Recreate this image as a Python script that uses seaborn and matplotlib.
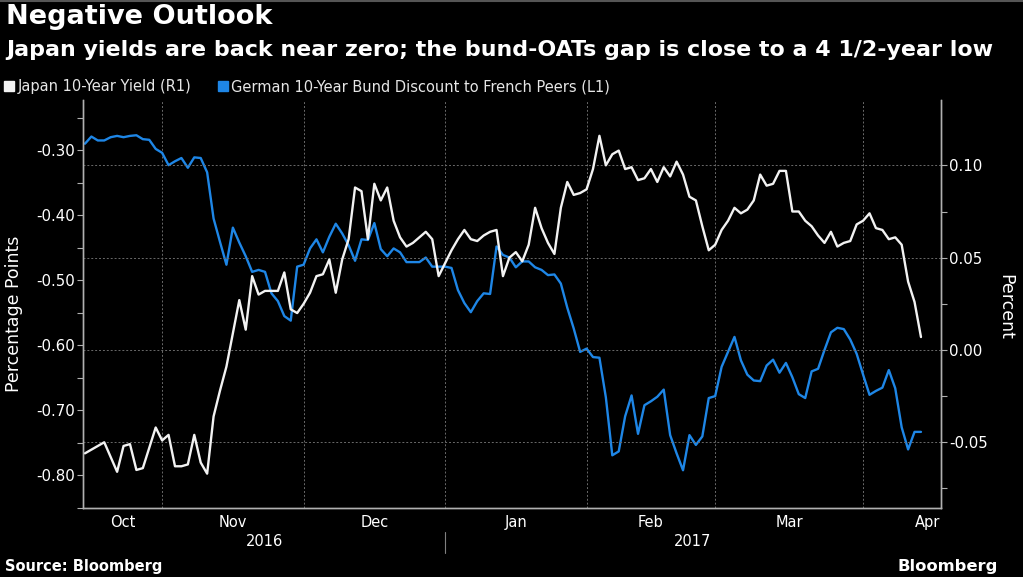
import numpy as np
import pandas as pd
import matplotlib
matplotlib.use("Agg")
import matplotlib.pyplot as plt
import matplotlib.transforms as mtransforms
from matplotlib.lines import Line2D
import seaborn as sns

# ---------------- data (business days starting 2016-10-14) ----------------
start_date = "2016-10-14"
japan_10y = [
    -0.056, -0.054, -0.052, -0.050, -0.058, -0.066, -0.052, -0.051, -0.065, -0.064,
    -0.053, -0.042, -0.049, -0.046, -0.063, -0.063, -0.062, -0.046, -0.061, -0.067,
    -0.036, -0.022, -0.009, 0.009, 0.027, 0.011, 0.040, 0.030, 0.032, 0.032,
    0.032, 0.042, 0.022, 0.020, 0.025, 0.031, 0.040, 0.041, 0.049, 0.031,
    0.049, 0.060, 0.088, 0.086, 0.060, 0.090, 0.081, 0.088, 0.070, 0.061,
    0.056, 0.058, 0.061, 0.064, 0.060, 0.040, 0.047, 0.054, 0.060, 0.065,
    0.060, 0.059, 0.062, 0.064, 0.065, 0.040, 0.050, 0.053, 0.048, 0.057,
    0.077, 0.066, 0.058, 0.052, 0.077, 0.091, 0.084, 0.085, 0.087, 0.098,
    0.116, 0.100, 0.106, 0.108, 0.098, 0.099, 0.092, 0.093, 0.098, 0.091,
    0.099, 0.094, 0.102, 0.095, 0.083, 0.081, 0.067, 0.054, 0.057, 0.065,
    0.070, 0.077, 0.074, 0.076, 0.081, 0.095, 0.089, 0.090, 0.097, 0.097,
    0.075, 0.075, 0.070, 0.067, 0.062, 0.058, 0.064, 0.056, 0.058, 0.059,
    0.068, 0.070, 0.074, 0.066, 0.065, 0.060, 0.061, 0.057, 0.037, 0.026,
    0.007,
]
bund_oat_gap = [
    -0.290, -0.279, -0.285, -0.285, -0.280, -0.278, -0.280, -0.278, -0.277, -0.283,
    -0.284, -0.298, -0.304, -0.323, -0.317, -0.312, -0.327, -0.311, -0.312, -0.334,
    -0.405, -0.441, -0.476, -0.419, -0.442, -0.463, -0.487, -0.484, -0.487, -0.520,
    -0.532, -0.555, -0.562, -0.479, -0.476, -0.451, -0.437, -0.457, -0.433, -0.413,
    -0.428, -0.446, -0.470, -0.437, -0.438, -0.412, -0.452, -0.463, -0.451, -0.457,
    -0.472, -0.472, -0.472, -0.465, -0.479, -0.479, -0.479, -0.481, -0.515, -0.535,
    -0.549, -0.532, -0.520, -0.521, -0.448, -0.461, -0.465, -0.480, -0.471, -0.471,
    -0.480, -0.484, -0.492, -0.491, -0.505, -0.542, -0.574, -0.610, -0.605, -0.618,
    -0.619, -0.680, -0.769, -0.763, -0.709, -0.677, -0.736, -0.692, -0.686, -0.679,
    -0.668, -0.738, -0.766, -0.792, -0.738, -0.753, -0.740, -0.681, -0.678, -0.633,
    -0.610, -0.587, -0.623, -0.645, -0.654, -0.655, -0.631, -0.622, -0.642, -0.627,
    -0.649, -0.675, -0.681, -0.640, -0.636, -0.607, -0.580, -0.573, -0.575, -0.591,
    -0.613, -0.645, -0.676, -0.670, -0.665, -0.638, -0.666, -0.726, -0.760, -0.733,
    -0.733,
]
japan_label = "Japan 10-Year Yield (R1)"
bund_label = "German 10-Year Bund Discount to French Peers (L1)"
left_ticks = [-0.30, -0.40, -0.50, -0.60, -0.70, -0.80]
right_ticks = [0.10, 0.05, 0.00, -0.05]
month_names = ["Oct", "Nov", "Dec", "Jan", "Feb", "Mar", "Apr"]
years = ["2016", "2017"]

n = len(japan_10y)
dates = pd.bdate_range(start_date, periods=n)
df = pd.DataFrame({"pos": np.arange(n), "date": dates,
                   "japan": japan_10y, "bund": bund_oat_gap})

# ---------------- style ----------------
sns.set_theme(style="dark", rc={"axes.facecolor": "black", "figure.facecolor": "black",
                                "axes.grid": False})
plt.rcParams["font.family"] = ["DejaVu Sans"]

BLUE = "#1e86e6"
WHITE = "#f2f2f2"
SPINE = "#b0b0b0"
GRID = "#6a6a6a"

fig = plt.figure(figsize=(10.23, 5.77), dpi=100, facecolor="black")
ax = fig.add_axes([0.0816, 0.1196, 0.8379, 0.7071])
ax.set_facecolor("black")
ax2 = ax.twinx()

sns.lineplot(data=df, x="pos", y="bund", ax=ax, color=BLUE, linewidth=1.7)
sns.lineplot(data=df, x="pos", y="japan", ax=ax2, color=WHITE, linewidth=1.7)

xmin, xmax = -0.23, 133.06
ax.set_xlim(xmin, xmax)
ax.set_ylim(-0.8438, -0.2228)
ax2.set_ylim(-0.0856, 0.1354)

# month boundaries / centres from the business-day calendar
ext = pd.bdate_range("2016-10-03", "2017-05-31")
offset = int(np.where(ext == pd.Timestamp(start_date))[0][0])
ext_pos = np.arange(len(ext)) - offset
first_of_month = pd.Series(ext_pos, index=ext).groupby([ext.year, ext.month]).min()
bounds = first_of_month.values  # Oct..May
inner_bounds = [b for b in bounds if xmin < b < xmax]
centres = []
for k in range(len(month_names)):
    lo = max(bounds[k], xmin)
    hi = bounds[k + 1]
    centres.append((lo + hi) / 2)
jan_pos = bounds[3]

# x axis
ax.set_xticks(inner_bounds)
ax.set_xticklabels([""] * len(inner_bounds))
ax.set_xticks(centres, minor=True)
ax.set_xticklabels(month_names, minor=True)
ax.tick_params(axis="x", which="major", length=6, width=0.8, color=SPINE, direction="out")
ax.tick_params(axis="x", which="minor", length=0, pad=5, labelsize=10.5, labelcolor="white")
ax.grid(axis="x", which="major", color=GRID, linestyle=(0, (2, 2)), linewidth=0.7)
ax.set_xlabel("")

# left y axis
ax.set_yticks(left_ticks)
ax.set_yticklabels([f"{v:.2f}" for v in left_ticks])
ax.set_yticks(np.arange(-0.85, -0.20, 0.05).round(2), minor=True)
ax.tick_params(axis="y", which="both", length=4, width=0.8, color=SPINE, direction="out",
               labelsize=10.8, labelcolor="white", pad=2)
ax.set_ylabel("Percentage Points", color="white", fontsize=12.5, va="center")
ax.yaxis.set_label_coords(-0.081, 0.475)

# right y axis
ax2.set_yticks(right_ticks)
ax2.set_yticklabels([f"{v:.2f}" for v in right_ticks])
ax2.set_yticks([0.075, 0.025, -0.025, -0.075], minor=True)
ax2.tick_params(axis="y", which="both", length=4, width=0.8, color=SPINE, direction="out",
                labelsize=10.8, labelcolor="white", pad=2)
ax2.grid(axis="y", which="major", color=GRID, linestyle=(0, (2, 2)), linewidth=0.7)
ax2.set_ylabel("Percent", color="white", fontsize=12.5, rotation=270, va="center")
ax2.yaxis.set_label_coords(1.0753, 0.494)
ax2.set_xlabel("")

for a in (ax, ax2):
    a.spines["top"].set_visible(False)
    for s in ("left", "right", "bottom"):
        a.spines[s].set_color(SPINE)
        a.spines[s].set_linewidth(1.0)

# year labels and separator
trans = mtransforms.blended_transform_factory(ax.transData, ax.transAxes)
ax.text((xmin + jan_pos) / 2, -0.083, years[0], transform=trans, ha="center", va="center",
        color="white", fontsize=10.5)
ax.text((jan_pos + xmax) / 2, -0.083, years[1], transform=trans, ha="center", va="center",
        color="white", fontsize=10.5)
ax.add_line(Line2D([jan_pos, jan_pos], [-0.058, -0.11], transform=trans, color="#808080",
                   linewidth=0.8, clip_on=False))

# legend
handles = [Line2D([], [], marker="s", linestyle="none", markersize=7.5, color=WHITE),
           Line2D([], [], marker="s", linestyle="none", markersize=7.5, color=BLUE)]
leg = fig.legend(handles, [japan_label, bund_label], loc="upper left",
                 bbox_to_anchor=(0.005, 1 - 79 / 577), ncol=2, frameon=False,
                 handlelength=0.6, handletextpad=0.25, columnspacing=1.9,
                 borderaxespad=0, borderpad=0, fontsize=10.5, labelcolor="#e6e6e6")

# titles and footer
fig.text(0.006, 1 - 4 / 577, "Negative Outlook", color="white", fontsize=19.5,
         fontweight="bold", va="top", ha="left")
fig.text(0.006, 1 - 40 / 577,
         "Japan yields are back near zero; the bund-OATs gap is close to a 4 1/2-year low",
         color="white", fontsize=15.9, fontweight="bold", va="top", ha="left")
fig.text(0.005, 1 - 566 / 577, "Source: Bloomberg", color="white", fontsize=10.5,
         fontweight="bold", va="center", ha="left")
fig.text(0.975, 1 - 566 / 577, "Bloomberg", color="white", fontsize=11.8,
         fontweight="bold", va="center", ha="right")
fig.add_artist(Line2D([0, 1], [1 - 1 / 577, 1 - 1 / 577], transform=fig.transFigure,
                      color="#555555", linewidth=1.5))

fig.savefig("out.png", dpi=100, facecolor="black")
